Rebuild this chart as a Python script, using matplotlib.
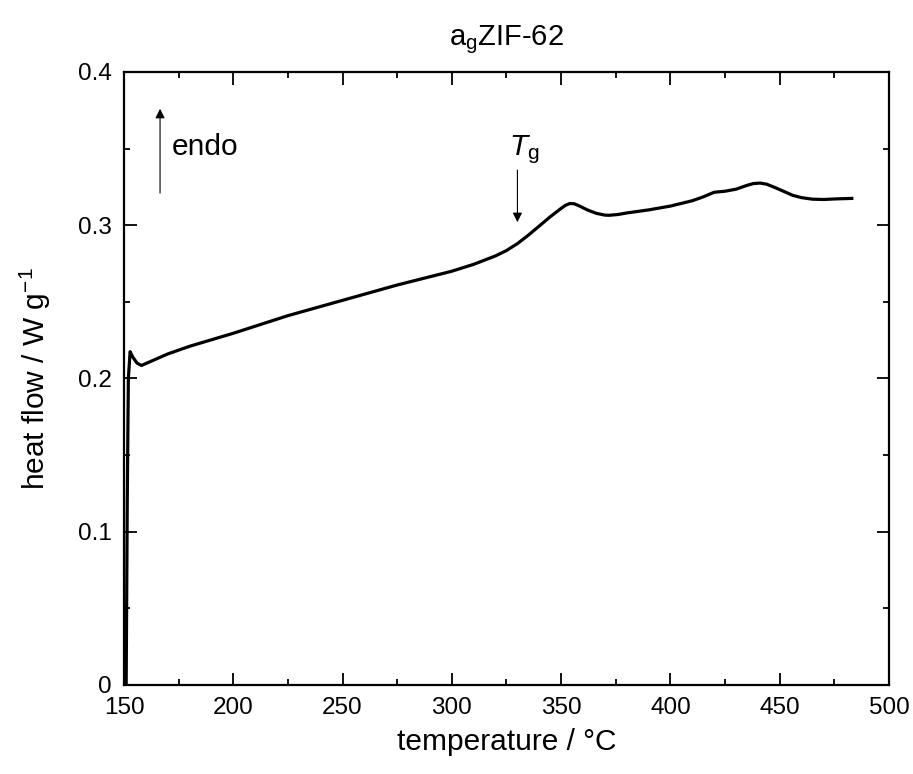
import matplotlib
matplotlib.use("Agg")
import matplotlib.pyplot as plt
from matplotlib.ticker import MultipleLocator

plt.rcParams['font.family'] = ['Liberation Sans', 'DejaVu Sans']
plt.rcParams['mathtext.fontset'] = 'custom'
plt.rcParams['mathtext.rm'] = 'Liberation Sans'
plt.rcParams['mathtext.it'] = 'Liberation Sans:italic'

temperature = [151.0, 151.5, 152.0, 152.8, 154, 156, 158, 162, 170, 180, 200, 225, 250, 275,
               300, 310, 320, 325, 330, 335, 340, 345, 350, 352, 354, 356, 358, 362, 366,
               370, 372, 376, 380, 390, 400, 410, 415, 420, 425, 430, 435, 438, 441, 444,
               448, 452, 456, 460, 465, 470, 476, 483]
heat_flow = [0.0, 0.12, 0.20, 0.2175, 0.214, 0.210, 0.2085, 0.211, 0.216, 0.221, 0.2295, 0.241,
             0.251, 0.261, 0.270, 0.2745, 0.2800, 0.2835, 0.2880, 0.2935, 0.2995, 0.3055,
             0.3110, 0.3130, 0.3142, 0.3140, 0.3128, 0.3100, 0.3078, 0.3066, 0.3065, 0.3070,
             0.3080, 0.3100, 0.3125, 0.3160, 0.3185, 0.3215, 0.3222, 0.3235, 0.3260, 0.3272,
             0.3275, 0.3268, 0.3245, 0.3220, 0.3195, 0.3180, 0.3170, 0.3168, 0.3172, 0.3175]

fig = plt.figure(figsize=(9.13, 7.74), dpi=100)
ax = fig.add_axes([0.1358, 0.115, 0.8379, 0.792])
ax.plot(temperature, heat_flow, color='black', lw=2.3)

ax.set_xlim(150, 500)
ax.set_ylim(0, 0.4)
ax.xaxis.set_major_locator(MultipleLocator(50))
ax.xaxis.set_minor_locator(MultipleLocator(25))
ax.yaxis.set_minor_locator(MultipleLocator(0.05))
ax.set_yticks([0, 0.1, 0.2, 0.3, 0.4])
ax.set_yticklabels(['0', '0.1', '0.2', '0.3', '0.4'])
ax.tick_params(which='both', direction='in', top=True, right=True, labelsize=17.5, width=1.3)
ax.tick_params(which='major', length=9, pad=9)
ax.tick_params(which='minor', length=4.5)
for s in ax.spines.values():
    s.set_linewidth(1.6)

ax.set_xlabel('temperature / °C', fontsize=21.5, labelpad=6)
ax.set_ylabel('heat flow / W g$^{-1}$', fontsize=21.5, labelpad=18)
ax.set_title('a$_\\mathregular{g}$ZIF-62', fontsize=21, pad=19)

# endo arrow
ax.annotate('', xy=(166.5, 0.376), xytext=(166.5, 0.321),
            arrowprops=dict(arrowstyle='-|>', color='black', lw=0.8, mutation_scale=14,
                            shrinkA=0, shrinkB=0))
ax.text(172, 0.351, 'endo', fontsize=21.5, va='center', ha='left')

# Tg arrow
ax.annotate('', xy=(330, 0.302), xytext=(330, 0.336),
            arrowprops=dict(arrowstyle='-|>', color='black', lw=0.8, mutation_scale=14,
                            shrinkA=0, shrinkB=0))
ax.text(333, 0.349, '$\\mathit{T}_\\mathregular{g}$', fontsize=21.5, va='center', ha='center')

fig.savefig('out.png', dpi=100)
